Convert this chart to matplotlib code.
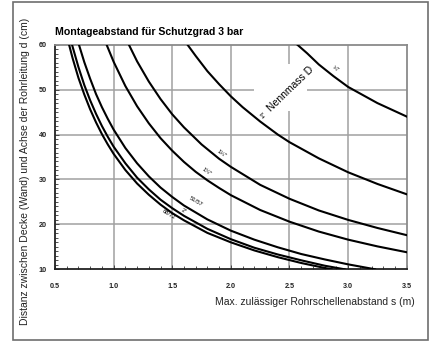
import matplotlib
matplotlib.use("Agg")
import matplotlib.pyplot as plt
from matplotlib.patches import Rectangle
from matplotlib.ticker import MultipleLocator

plt.rcParams["font.family"] = ["Liberation Sans", "DejaVu Sans"]

# Nennmass D, von der untersten zur obersten Kurve
sizes = ['68/72', '2"', '51/57', '1½"', '1¼"', '1"', '¾"']

# s = Rohrschellenabstand (m), d = Distanz (cm)
s_6872 = [0.62, 0.65, 0.7, 0.75, 0.8, 0.85, 0.9, 0.95, 1.0, 1.1, 1.2, 1.3, 1.4, 1.5,
          1.6, 1.8, 2.0, 2.2, 2.4, 2.6, 2.8, 2.86]
d_6872 = [60.0, 57.0, 52.6, 48.9, 45.6, 42.7, 40.1, 37.8, 35.7, 32.1, 29.1, 26.6, 24.4, 22.5,
          20.9, 18.1, 16.0, 14.2, 12.7, 11.4, 10.3, 10.0]

s_2 = [0.645, 0.7, 0.75, 0.8, 0.85, 0.9, 0.95, 1.0, 1.1, 1.2, 1.3, 1.4, 1.5,
       1.6, 1.8, 2.0, 2.2, 2.4, 2.6, 2.8, 2.97]
d_2 = [60.0, 55.0, 51.0, 47.6, 44.6, 41.9, 39.5, 37.3, 33.6, 30.4, 27.8, 25.5, 23.6,
       21.9, 19.0, 16.7, 14.8, 13.3, 12.0, 10.8, 10.0]

s_5157 = [0.704, 0.75, 0.8, 0.85, 0.9, 0.95, 1.0, 1.1, 1.2, 1.3, 1.4, 1.5,
          1.6, 1.8, 2.0, 2.2, 2.4, 2.6, 2.8, 3.0, 3.23]
d_5157 = [60.0, 56.1, 52.4, 49.0, 46.1, 43.5, 41.1, 37.0, 33.6, 30.7, 28.2, 26.1,
          24.2, 21.1, 18.6, 16.6, 14.9, 13.4, 12.2, 11.1, 10.0]

s_112 = [0.94, 1.0, 1.1, 1.2, 1.3, 1.4, 1.5, 1.6, 1.7, 1.8, 1.9, 2.0,
         2.25, 2.5, 2.75, 3.0, 3.25, 3.5]
d_112 = [60.0, 56.2, 50.8, 46.3, 42.5, 39.2, 36.4, 33.9, 31.7, 29.8, 28.1, 26.5,
         23.2, 20.6, 18.4, 16.6, 15.1, 13.8]

s_114 = [1.13, 1.2, 1.3, 1.4, 1.5, 1.6, 1.75, 1.9, 2.0, 2.25, 2.5, 2.75, 3.0, 3.25, 3.5]
d_114 = [60.0, 56.3, 51.8, 47.9, 44.5, 41.6, 37.8, 34.6, 32.8, 28.8, 25.7, 23.1, 21.0, 19.2, 17.6]

s_1 = [1.63, 1.7, 1.8, 1.9, 2.0, 2.1, 2.25, 2.4, 2.5, 2.75, 3.0, 3.25, 3.5]
d_1 = [60.0, 57.5, 54.1, 51.2, 48.5, 46.1, 42.9, 40.0, 38.3, 34.7, 31.6, 29.0, 26.7]

s_34 = [2.567, 2.65, 2.75, 2.875, 3.0, 3.25, 3.5]
d_34 = [60.0, 58.1, 55.6, 53.0, 50.6, 47.0, 44.0]

curves = [(s_6872, d_6872), (s_2, d_2), (s_5157, d_5157), (s_112, d_112),
          (s_114, d_114), (s_1, d_1), (s_34, d_34)]

# Lage der Beschriftungen (x, y, Winkel)
label_pos = [(1.47, 22.2, -31), (1.60, 23.0, -31), (1.70, 25.0, -31),
             (1.79, 31.8, -35), (1.92, 35.8, -35), (2.28, 44.3, 44), (2.89, 54.6, -35)]

x_ticks = [0.5, 1.0, 1.5, 2.0, 2.5, 3.0, 3.5]
y_ticks = [10, 20, 30, 40, 50, 60]

fig = plt.figure(figsize=(4.38, 3.42), dpi=100)
ax = fig.add_axes([0.1256, 0.2126, 0.803, 0.6567])

# Rahmen um das ganze Bild
fig.patches.append(Rectangle((13 / 438, 2 / 342), 415 / 438, 338 / 342,
                             transform=fig.transFigure, fill=False,
                             edgecolor="#6e6e6e", linewidth=1.2))

# Gitter, mit Lücke für "Nennmass D"
gcol = "#a0a0a0"
for y in [20, 30, 40]:
    ax.hlines(y, 0.5, 3.5, color=gcol, lw=1.1, zorder=1)
ax.hlines(50, 0.5, 2.2, color=gcol, lw=1.1, zorder=1)
ax.hlines(50, 2.65, 3.5, color=gcol, lw=1.1, zorder=1)
for x in [1.0, 1.5, 2.0, 3.0]:
    ax.vlines(x, 10, 60, color=gcol, lw=1.1, zorder=1)
ax.vlines(2.5, 10, 45.3, color=gcol, lw=1.1, zorder=1)
ax.vlines(2.5, 55.8, 60, color=gcol, lw=1.1, zorder=1)

for s, d in curves:
    ax.plot(s, d, color="black", lw=1.5, zorder=3, solid_joinstyle="round")

for lab, (x, y, rot) in zip(sizes, label_pos):
    fs = 5 if lab == '1"' else 4.2
    ax.text(x, y, lab, fontsize=fs, rotation=rot, rotation_mode="anchor",
            ha="center", va="center", zorder=4)

ax.text(2.505, 50.1, "Nennmass D", fontsize=7.5, rotation=44,
        rotation_mode="anchor", ha="center", va="center", zorder=4)

ax.set_xlim(0.5, 3.5)
ax.set_ylim(10, 60)
ax.set_xticks(x_ticks)
ax.set_xticklabels([f"{v:.1f}" for v in x_ticks])
ax.set_yticks(y_ticks)
ax.set_yticklabels([str(v) for v in y_ticks])
ax.xaxis.set_minor_locator(MultipleLocator(0.1))
ax.yaxis.set_minor_locator(MultipleLocator(1))
ax.tick_params(which="both", direction="in", top=False, right=False,
               color="#333333", width=0.6)
ax.tick_params(which="major", length=3)
ax.tick_params(which="minor", length=2)
ax.tick_params(axis="x", which="major", pad=10)
ax.tick_params(axis="y", which="major", pad=6)
for t in ax.get_xticklabels() + ax.get_yticklabels():
    t.set_fontsize(5.2)
    t.set_fontweight("bold")
    t.set_color("#222222")

for side in ["left", "bottom"]:
    ax.spines[side].set_color("#222222")
    ax.spines[side].set_linewidth(1.3)
for side in ["top", "right"]:
    ax.spines[side].set_color("#8a8a8a")
    ax.spines[side].set_linewidth(1.3)

fig.text(55 / 438, 1 - 32 / 342, "Montageabstand für Schutzgrad 3 bar",
         fontsize=7.6, fontweight="bold", ha="left", va="center")
fig.text(415 / 438, 1 - 302 / 342, "Max. zulässiger Rohrschellenabstand s (m)",
         fontsize=7.5, ha="right", va="center", color="#222222")
fig.text(25 / 438, 1 - 171.5 / 342,
         "Distanz zwischen Decke (Wand) und Achse der Rohrleitung d (cm)",
         fontsize=7.5, rotation=90, ha="center", va="center", color="#222222")

fig.savefig("out.png", dpi=100)
